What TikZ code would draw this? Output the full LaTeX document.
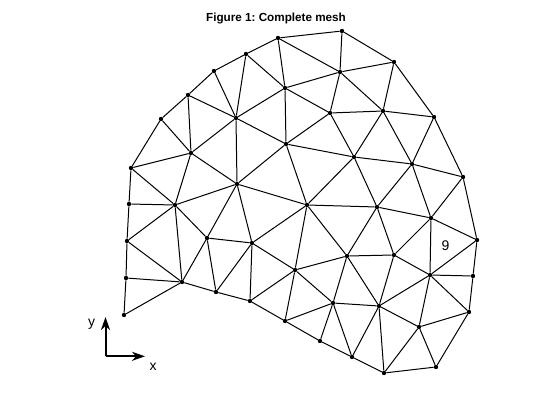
\documentclass[tikz,border=0pt]{standalone}
\usepackage{fontspec}
\setmainfont{Liberation Sans}
\usetikzlibrary{arrows.meta}
\tikzset{
  meshpt/.style={circle,fill=black,inner sep=0pt,minimum size=4.4pt},
  meshedge/.style={line width=1pt,black},
  axisline/.style={line width=2pt,-{Stealth[length=13pt,width=9pt,inset=4pt]}},
  lbl/.style={inner sep=0pt,font=\fontsize{14}{16}\selectfont}
}
\begin{document}
\frenchspacing
\begin{tikzpicture}[x=1pt,y=-1pt]
\useasboundingbox (0,0) rectangle (560,420);
\foreach \n/\x/\y in {
 A/124/315,B/126/278,C/127/241,D/129/204,E/131/168,F/161/119,G/188/95,H/214/71,I/246/54,J/278/38,
 K/342/31,L/394/62,M/434/117,N/463/177,O/477/240,P/473/276,Q/469/312,R/436/367,S/384/373,T/352/357,
 U/320/341,V/285/321,W/250/301,X/216/292,Y/182/282,
 a/175/205,b/191/153,c/236/118,d/285/88,e/340/72,f/330/113,g/383/111,h/286/144,i/354/157,j/412/164,
 k/237/184,l/307/205,m/377/207,n/431/218,o/207/238,p/252/243,q/295/270,r/347/256,s/394/255,t/430/275,
 u/333/303,v/379/306,w/419/327}
  \node[meshpt] (\n) at (\x,\y) {};
\foreach \p/\q in {
 A/B,B/C,C/D,D/E,E/F,F/G,G/H,H/I,I/J,J/K,K/L,L/M,M/N,N/O,O/P,P/Q,Q/R,R/S,S/T,T/U,U/V,V/W,W/X,X/Y,Y/A,
 J/d,I/d,H/c,I/c,G/c,G/b,F/b,E/b,c/b,c/d,c/h,c/k,d/h,b/k,h/k,E/a,b/a,J/e,d/e,d/f,K/e,L/e,L/g,
 e/f,e/g,f/g,g/M,f/h,f/i,g/i,g/j,M/j,h/i,i/j,j/N,i/l,i/m,j/m,N/n,h/l,j/n,l/m,
 D/a,a/k,a/C,a/Y,a/o,C/Y,B/Y,Y/o,o/k,o/p,o/X,X/p,p/W,k/p,k/l,p/l,p/q,W/q,
 l/r,l/q,q/V,q/u,q/r,V/u,U/u,u/r,u/v,u/T,T/v,v/S,v/r,v/s,v/t,v/w,S/w,w/t,w/Q,w/R,
 Q/t,P/t,O/t,O/n,n/t,n/s,s/t,s/r,s/m,m/r,m/n}
  \draw[meshedge] (\p) -- (\q);
\coordinate (org) at (105.5,356.3);
\coordinate (ytip) at (105.5,317);
\coordinate (xtip) at (145,356.3);
\draw[axisline] (org) -- (ytip);
\draw[axisline] (org) -- (xtip);
\node[lbl] (ylab) at (91.5,324) {y};
\node[lbl] (xlab) at (153,367) {x};
\node[lbl] (nine) at (445.5,246) {9};
\node[inner sep=0pt,font=\fontsize{11.7}{14}\selectfont\bfseries] (title) at (276,19) {Figure 1: Complete mesh};
\end{tikzpicture}
\end{document}
